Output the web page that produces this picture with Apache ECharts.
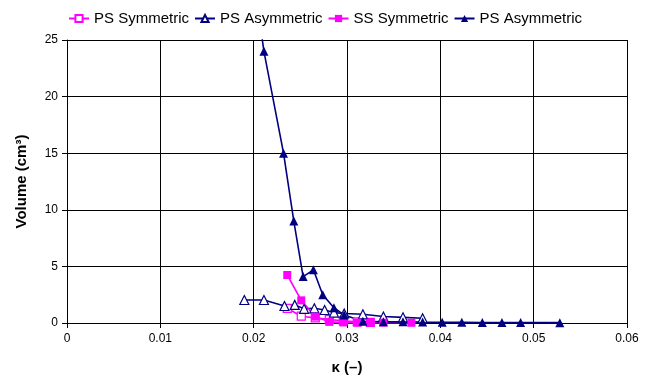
<!DOCTYPE html>
<html>
<head>
<meta charset="utf-8">
<script src="https://cdn.jsdelivr.net/npm/echarts@6/dist/echarts.min.js"></script>
<style>
  html, body { margin: 0; padding: 0; background: #fff; }
  #chart { width: 658px; height: 383px; }
</style>
</head>
<body>
<div id="chart"></div>
<script>
// 数据：每条曲线的 [κ, 体积] 点
var psSymmetric = [
    [0.0236, 1.3], [0.0251, 0.6], [0.0266, 0.45], [0.0281, 0.3],
    [0.0296, 0.2], [0.0311, 0.1], [0.0325, 0.05]
];
var psAsymmetricOpen = [
    [0.0190, 2.03], [0.0211, 2.03], [0.0233, 1.5], [0.0244, 1.6],
    [0.0254, 1.25], [0.0265, 1.3], [0.0276, 1.15], [0.0286, 0.92],
    [0.0297, 0.84], [0.0317, 0.77], [0.0339, 0.57], [0.0360, 0.5],
    [0.0381, 0.42]
];
var ssSymmetric = [
    [0.0236, 4.24], [0.0251, 2.0], [0.0266, 0.56], [0.0281, 0.1],
    [0.0296, 0.05], [0.0311, 0.04], [0.0325, 0.03], [0.0339, 0.03],
    [0.0369, 0.02]
];
var psAsymmetricFilled = [
    [0.0205, 27.5], [0.0211, 24], [0.0232, 15], [0.0243, 9],
    [0.0253, 4.1], [0.0264, 4.7], [0.0274, 2.5], [0.0286, 1.35],
    [0.0297, 0.7], [0.0317, 0.15], [0.0339, 0.1], [0.0360, 0.1],
    [0.0381, 0.08], [0.0402, 0.07], [0.0423, 0.06], [0.0445, 0.05],
    [0.0466, 0.05], [0.0486, 0.04], [0.0528, 0.03]
];
var seriesNames = ['PS Symmetric', 'PS Asymmetric', 'SS Symmetric', 'PS Asymmetric '];

var navy = '#000080';
var pink = '#FF00FF';
var font = 'Arial, "Liberation Sans", sans-serif';

var myChart = echarts.init(document.getElementById('chart'));

function makeSeries(name, data, color, symbol, hollow) {
    return {
        name: name,
        type: 'line',
        data: data,
        symbol: symbol,
        symbolSize: symbol === 'rect' ? 8 : 9,
        clip: true,
        lineStyle: { color: color, width: 1.6 },
        itemStyle: {
            color: hollow ? '#fff' : color,
            borderColor: color,
            borderWidth: hollow ? 1.2 : 0
        },
        emphasis: { disabled: true }
    };
}

var option = {
    animation: false,
    textStyle: { fontFamily: font, color: '#000' },
    legend: {
        top: 6,
        left: 63,
        itemGap: 5,
        itemWidth: 20,
        itemHeight: 9,
        textStyle: { fontSize: 15, color: '#000', fontFamily: font },
        data: seriesNames
    },
    grid: { left: 67, right: 31, top: 40, bottom: 60 },
    xAxis: {
        type: 'value',
        min: 0,
        max: 0.06,
        interval: 0.01,
        name: 'κ (–)',
        nameLocation: 'middle',
        nameGap: 37,
        nameTextStyle: { fontSize: 15, fontWeight: 'bold', color: '#000', fontFamily: font },
        axisLine: { lineStyle: { color: '#000', width: 1 } },
        axisTick: { show: true, length: 5, lineStyle: { color: '#000' } },
        axisLabel: {
            fontSize: 12, color: '#000', margin: 10,
            formatter: function (v) { return String(+v.toFixed(2)); }
        },
        splitLine: { show: true, lineStyle: { color: '#000', width: 1 } }
    },
    yAxis: {
        type: 'value',
        min: 0,
        max: 25,
        interval: 5,
        name: 'Volume (cm³)',
        nameLocation: 'middle',
        nameGap: 38,
        nameRotate: 90,
        nameTextStyle: { fontSize: 15, fontWeight: 'bold', color: '#000', fontFamily: font },
        axisLine: { show: true, lineStyle: { color: '#000', width: 1 } },
        axisTick: { show: true, length: 5, lineStyle: { color: '#000' } },
        axisLabel: { fontSize: 12, color: '#000', margin: 9 },
        splitLine: { show: true, lineStyle: { color: '#000', width: 1 } }
    },
    series: [
        makeSeries(seriesNames[0], psSymmetric, pink, 'rect', true),
        makeSeries(seriesNames[1], psAsymmetricOpen, navy, 'triangle', true),
        makeSeries(seriesNames[2], ssSymmetric, pink, 'rect', false),
        makeSeries(seriesNames[3], psAsymmetricFilled, navy, 'triangle', false)
    ]
};

myChart.setOption(option);
</script>
</body>
</html>
